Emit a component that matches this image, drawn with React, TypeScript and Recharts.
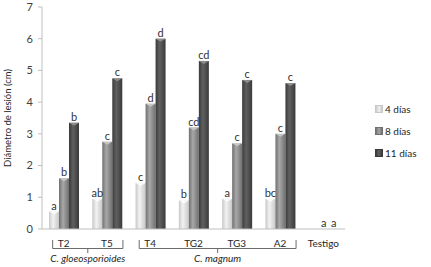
import { BarChart, Bar, XAxis, YAxis, Legend, LabelList, Label } from "recharts";

// Diámetro de lesión por aislamiento (cm)
const categorias = ["T2", "T5", "T4", "TG2", "TG3", "A2", "Testigo"];
const dias4 = [0.55, 0.95, 1.45, 0.9, 0.95, 0.95, 0];
const dias8 = [1.6, 2.75, 3.95, 3.2, 2.7, 3.0, 0];
const dias11 = [3.35, 4.75, 6.0, 5.3, 4.7, 4.6, 0];
// letras de separación de medias
const letras4 = ["a", "ab", "c", "b", "a", "bc", ""];
const letras8 = ["b", "c", "d", "cd", "c", "c", "a"];
const letras11 = ["b", "c", "d", "cd", "c", "c", "a"];
const grupos = [
  { nombre: "C. gloeosporioides", desde: 0, hasta: 1 },
  { nombre: "C. magnum", desde: 2, hasta: 5 },
];
const yTicks = [0, 1, 2, 3, 4, 5, 6, 7];
const limites = [0, 1, 2, 3, 4, 5, 6, 7];

const SERIES = [
  { key: "d4", label: "4 días", letras: "l4", dark: "#c8c8c8", light: "#f2f2f2", cap: "#ffffff" },
  { key: "d8", label: "8 días", letras: "l8", dark: "#707070", light: "#a8a8a8", cap: "#d0d0d0" },
  { key: "d11", label: "11 días", letras: "l11", dark: "#3a3a3a", light: "#606060", cap: "#9a9a9a" },
];

const data = categorias.map((name, i) => ({
  name,
  d4: dias4[i],
  d8: dias8[i],
  d11: dias11[i],
  l4: letras4[i],
  l8: letras8[i],
  l11: letras11[i],
}));

const W = 431;
const H = 267;
const LEFT = 42;
const RIGHT = 86;
const STEP = (W - LEFT - RIGHT) / categorias.length;
const FONT = "Lato, 'Liberation Sans', sans-serif";

// barra tipo cilindro con tapa clara
function Cilindro(props: any) {
  const { x, y, width, height, fill, cap } = props;
  if (!width) return null;
  return (
    <g>
      <rect x={x} y={y} width={width} height={Math.max(height, 0)} fill={fill} />
      {height > 2 && (
        <path
          d={`M${x},${y} L${x + width},${y} L${x + width / 2},${y + 3} Z`}
          fill={cap}
          opacity={0.8}
        />
      )}
    </g>
  );
}

// etiqueta de categoría + llaves de grupo
function TickCategoria(props: any) {
  const { x, y, payload } = props;
  const i = payload.index;
  const g = grupos.find((gr) => gr.desde === i);
  let llave = null;
  if (g) {
    const x0 = x - 11;
    const x1 = x + (g.hasta - g.desde) * STEP + 16;
    const xm = (x0 + x1) / 2;
    llave = (
      <g>
        <path
          d={`M${x0},${y + 11} L${x0},${y + 19.5} L${x1},${y + 19.5} L${x1},${y + 11}`}
          stroke="#6b6b6b"
          strokeWidth={1}
          fill="none"
        />
        <line x1={xm} y1={y + 19.5} x2={xm} y2={y + 24} stroke="#6b6b6b" strokeWidth={1} />
        <text
          x={xm}
          y={y + 33}
          textAnchor="middle"
          fontSize={10}
          fontStyle="italic"
          fill="#262626"
          fontFamily={FONT}
        >
          {g.nombre}
        </text>
      </g>
    );
  }
  return (
    <g>
      <text x={x} y={y + 18} textAnchor="middle" fontSize={10} fill="#262626" fontFamily={FONT}>
        {payload.value}
      </text>
      {llave}
    </g>
  );
}

function Leyenda() {
  return (
    <div style={{ fontFamily: FONT, fontSize: 10, color: "#262626" }}>
      {SERIES.map((s) => (
        <div key={s.key} style={{ display: "flex", alignItems: "center", height: 22 }}>
          <span
            style={{
              width: 6,
              height: 6,
              marginRight: 2,
              background: `linear-gradient(to right, ${s.dark}, ${s.light}, ${s.dark})`,
              border: `1px solid ${s.dark}`,
            }}
          />
          {s.label}
        </div>
      ))}
    </div>
  );
}

export default function App() {
  return (
    <div style={{ position: "absolute", left: 0, top: 0, width: W, height: H, background: "#fff" }}>
      <BarChart
        width={W}
        height={H}
        data={data}
        margin={{ top: 7, right: RIGHT, bottom: 0, left: 0 }}
        barCategoryGap={7}
        barGap={0}
      >
        <defs>
          {SERIES.map((s) => (
            <linearGradient key={s.key} id={`grad-${s.key}`} x1="0" y1="0" x2="1" y2="0">
              <stop offset="0%" stopColor={s.dark} />
              <stop offset="40%" stopColor={s.light} />
              <stop offset="100%" stopColor={s.dark} />
            </linearGradient>
          ))}
        </defs>
        <XAxis
          xAxisId="lim"
          type="number"
          domain={[0, 7]}
          ticks={limites}
          tick={false}
          axisLine={false}
          tickLine={{ stroke: "#bfbfbf" }}
          tickSize={4}
          height={0}
        />
        <XAxis
          xAxisId="cat"
          dataKey="name"
          height={38}
          axisLine={{ stroke: "#bfbfbf" }}
          tickLine={false}
          tickSize={0}
          tickMargin={0}
          interval={0}
          tick={<TickCategoria />}
        />
        <YAxis
          width={LEFT}
          domain={[0, 7]}
          ticks={yTicks}
          axisLine={{ stroke: "#bfbfbf" }}
          tickLine={{ stroke: "#bfbfbf" }}
          tickSize={4}
          tickMargin={5}
          tick={{ fontSize: 11, fill: "#404040", fontFamily: FONT }}
        >
          <Label
            value="Diámetro de lesión (cm)"
            angle={-90}
            position="insideLeft"
            offset={8}
            style={{ textAnchor: "middle", fontSize: 9.5, fill: "#262626", fontFamily: FONT }}
          />
        </YAxis>
        <Legend
          layout="vertical"
          align="center"
          verticalAlign="middle"
          content={<Leyenda />}
          wrapperStyle={{ left: 375, top: 98, width: 56 }}
        />
        {SERIES.map((s) => (
          <Bar
            key={s.key}
            xAxisId="cat"
            dataKey={s.key}
            name={s.label}
            fill={`url(#grad-${s.key})`}
            isAnimationActive={false}
            shape={<Cilindro cap={s.cap} />}
          >
            <LabelList
              dataKey={s.letras}
              position="top"
              offset={2}
              fill="#333333"
              fontSize={11}
              fontFamily={FONT}
            />
          </Bar>
        ))}
      </BarChart>
    </div>
  );
}
